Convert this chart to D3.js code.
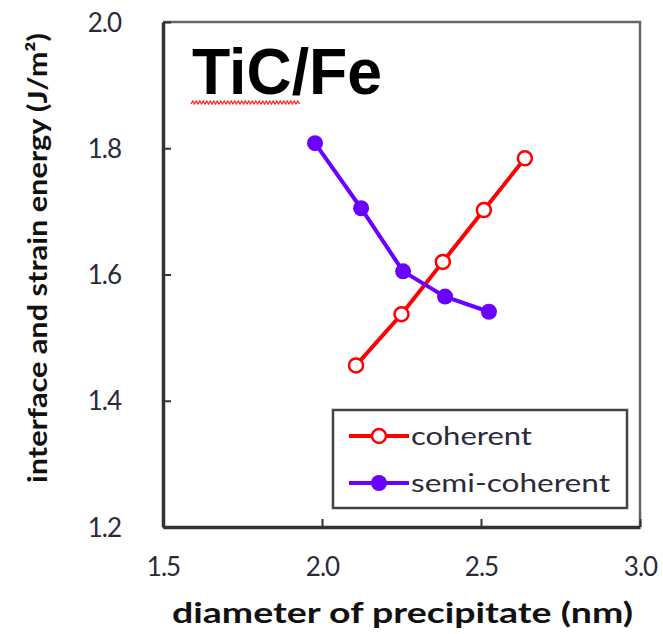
<!DOCTYPE html>
<html><head><meta charset="utf-8">
<script src="https://cdn.jsdelivr.net/npm/d3@7"></script>
<style>body{margin:0;background:#fff}</style>
</head><body>
<svg id="c" width="663" height="634"></svg>
<script>
const coherentX = [2.107, 2.25, 2.38, 2.509, 2.638];
const coherentY = [1.456, 1.537, 1.62, 1.702, 1.784];
const semiX = [1.978, 2.123, 2.255, 2.387, 2.525];
const semiY = [1.808, 1.705, 1.605, 1.565, 1.541];
const xTicks = [1.5, 2.0, 2.5, 3.0];
const yTicks = [1.2, 1.4, 1.6, 1.8, 2.0];
const seriesNames = ["coherent", "semi-coherent"];
const title = "TiC/Fe";
const xLabel = "diameter of precipitate (nm)";
const yLabel = "interface and strain energy (J/m²)";

const svg = d3.select("#c");
const L = 163, R = 640, T = 22, B = 527;
const x = d3.scaleLinear().domain([1.5, 3.0]).range([L, R]);
const y = d3.scaleLinear().domain([1.2, 2.0]).range([B, T]);
const font = "Lato, 'Open Sans', sans-serif";
const tickColor = "#2a2a3a";

// frame top/right
svg.append("path").attr("d", `M${L},${T}H${R}V${B}`).attr("fill","none")
  .attr("stroke","#666").attr("stroke-width",2.5);

// axes
const yAxis = d3.axisLeft(y).tickValues(yTicks).tickFormat(d3.format(".1f"))
  .tickSizeInner(-8).tickSizeOuter(0).tickPadding(42);
const gy = svg.append("g").attr("transform",`translate(${L},0)`).call(yAxis);
const xAxis = d3.axisBottom(x).tickValues(xTicks).tickFormat(d3.format(".1f"))
  .tickSizeInner(-8).tickSizeOuter(0).tickPadding(31);
const gx = svg.append("g").attr("transform",`translate(0,${B})`).call(xAxis);
[gy, gx].forEach(g => {
  g.select(".domain").attr("stroke","#333").attr("stroke-width",3.5);
  g.selectAll(".tick line").attr("stroke","#333").attr("stroke-width",2);
  g.selectAll(".tick text").attr("fill",tickColor).attr("font-family",font)
    .attr("font-size",26).attr("letter-spacing","-1");
});
gy.selectAll(".tick text").attr("dy","0.35em");
gx.selectAll(".tick text").attr("dy","0.71em");

// title
svg.append("text").attr("x",192).attr("y",94).text(title)
  .attr("font-family","'Liberation Sans', Arial, sans-serif").attr("font-weight","bold")
  .attr("font-size",64).attr("textLength",190).attr("lengthAdjust","spacingAndGlyphs").attr("fill","#000");
// red wavy underline under "TiC"
{
  let d = "M191,104";
  for (let xx = 191; xx < 297; xx += 3.5) d += `L${xx+1.75},101L${xx+3.5},104`;
  svg.append("path").attr("d", d).attr("fill","none").attr("stroke","#ff2020").attr("stroke-width",1.3);
}

const line = d3.line().x(d => x(d[0])).y(d => y(d[1]));
const coherent = coherentX.map((v,i)=>[v, coherentY[i]]);
const semi = semiX.map((v,i)=>[v, semiY[i]]);
const red = "#ff0000", purple = "#6a00ff";

svg.append("path").datum(coherent).attr("d", line).attr("fill","none").attr("stroke",red).attr("stroke-width",4);
svg.append("path").datum(semi).attr("d", line).attr("fill","none").attr("stroke",purple).attr("stroke-width",4);
svg.selectAll(".ps").data(semi).join("circle").attr("cx",d=>x(d[0])).attr("cy",d=>y(d[1]))
  .attr("r",8).attr("fill",purple);
svg.selectAll(".pc").data(coherent).join("circle").attr("cx",d=>x(d[0])).attr("cy",d=>y(d[1]))
  .attr("r",7).attr("fill","#fff").attr("stroke",red).attr("stroke-width",2.5);

// legend
svg.append("rect").attr("x",333).attr("y",410).attr("width",294).attr("height",98)
  .attr("fill","#fff").attr("stroke","#444").attr("stroke-width",2.5);
const legY = [436, 483];
const legColors = [red, purple];
seriesNames.forEach((n,i) => {
  svg.append("line").attr("x1",349).attr("x2",409).attr("y1",legY[i]).attr("y2",legY[i])
    .attr("stroke",legColors[i]).attr("stroke-width",4);
  if (i === 0) svg.append("circle").attr("cx",379).attr("cy",legY[i]).attr("r",7)
      .attr("fill","#fff").attr("stroke",red).attr("stroke-width",2.5);
  else svg.append("circle").attr("cx",379).attr("cy",legY[i]).attr("r",8).attr("fill",purple);
  svg.append("text").attr("x",411).attr("y",legY[i]).attr("dy","0.35em").text(n)
    .attr("font-family",font).attr("font-size",25).attr("fill",tickColor)
    .attr("textLength", i===0 ? 121 : 199).attr("lengthAdjust","spacingAndGlyphs");
});

// axis labels
svg.append("text").attr("x",(172+633)/2).attr("y",623).attr("text-anchor","middle").text(xLabel)
  .attr("font-family",font).attr("font-weight","bold").attr("font-size",28).attr("fill","#111")
  .attr("textLength",461).attr("lengthAdjust","spacingAndGlyphs");
svg.append("text").attr("transform","translate(47,258) rotate(-90)").attr("text-anchor","middle").text(yLabel)
  .attr("font-family",font).attr("font-weight","bold").attr("font-size",26).attr("fill","#111")
  .attr("textLength",450).attr("lengthAdjust","spacingAndGlyphs");
</script>
</body></html>
